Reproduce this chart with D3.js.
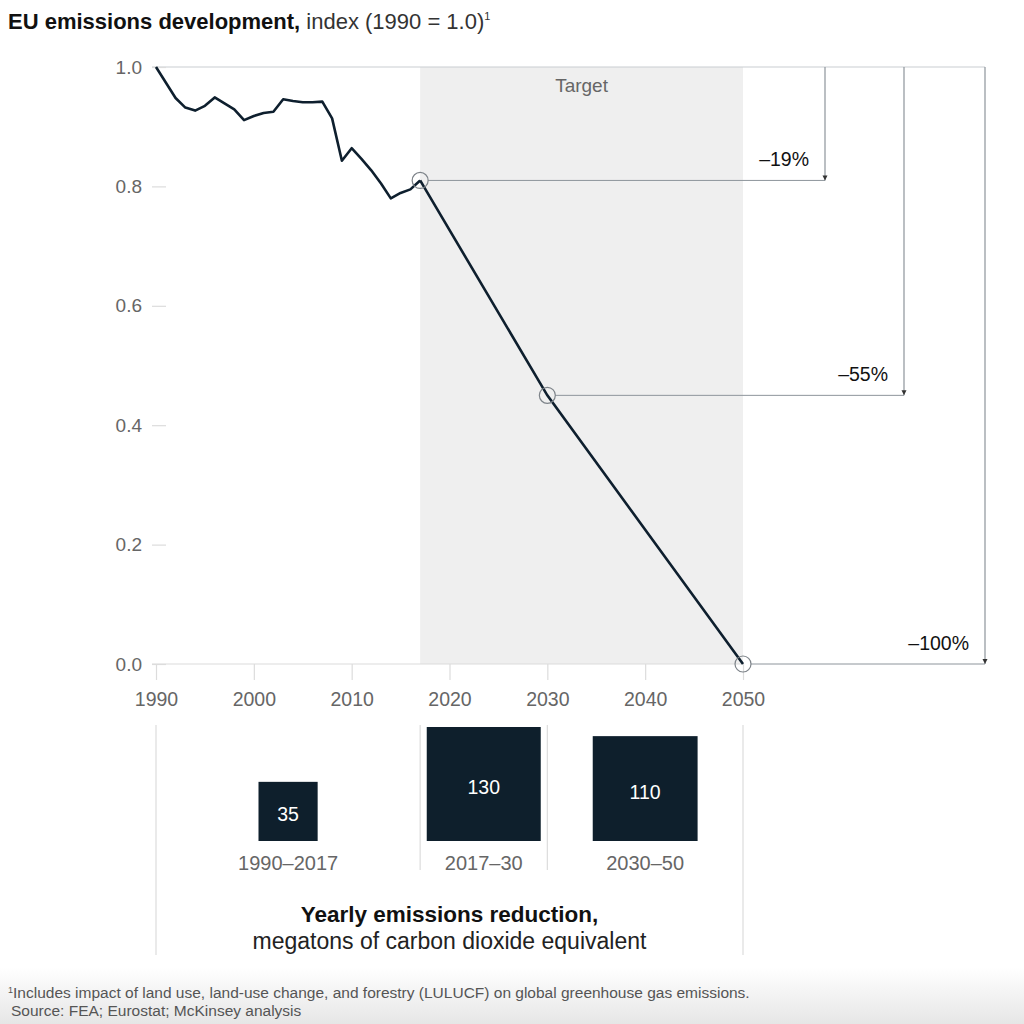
<!DOCTYPE html>
<html><head><meta charset="utf-8">
<script src="https://cdn.jsdelivr.net/npm/d3@7"></script>
<style>
html,body{margin:0;padding:0;background:#fff;}
svg{display:block;font-family:"Liberation Sans",Arial,sans-serif;}
</style></head>
<body><svg id="c" width="1024" height="1024"></svg>
<script>
// ---- data ----
const years = [1990,1991,1992,1993,1994,1995,1996,1997,1998,1999,2000,2001,2002,2003,2004,2005,2006,2007,2008,2009,2010,2011,2012,2013,2014,2015,2016,2017];
const emissions = [1.000,0.974,0.948,0.932,0.927,0.935,0.949,0.939,0.929,0.911,0.918,0.923,0.925,0.946,0.943,0.941,0.941,0.942,0.914,0.843,0.864,0.846,0.827,0.805,0.780,0.789,0.795,0.810];
const targetYears = [2017,2030,2050];
const targetValues = [0.81,0.45,0.0];
const targetLabels = ["–19%","–55%","–100%"];
const xTicks = [1990,2000,2010,2020,2030,2040,2050];
const yTicks = [0,0.2,0.4,0.6,0.8,1.0];
const periods = ["1990–2017","2017–30","2030–50"];
const periodStart = [1990,2017,2030];
const periodEnd = [2017,2030,2050];
const reductions = [35,130,110];

// ---- layout ----
const svg = d3.select("#c");
const x = d3.scaleLinear().domain([1990,2050]).range([156,743]);
const y = d3.scaleLinear().domain([0,1]).range([664,67]);
const side = d3.scaleSqrt().domain([0,130]).range([0,114]);
const arrowX = [825,904,985];
const dark = "#0e1f2e", grey = "#666", annot = "#8d949b", light = "#dcdcdc";
const FF = "Liberation Sans, Arial, sans-serif";

// footer gradient
const defs = svg.append("defs");
const g = defs.append("linearGradient").attr("id","fg").attr("x1",0).attr("x2",0).attr("y1",0).attr("y2",1);
g.append("stop").attr("offset","0%").attr("stop-color","#ffffff");
g.append("stop").attr("offset","100%").attr("stop-color","#e6e6e6");
svg.append("rect").attr("x",0).attr("y",968).attr("width",1024).attr("height",56).attr("fill","url(#fg)");

// title
const t = svg.append("text").attr("x",8).attr("y",29).attr("font-size",22).attr("fill","#111");
t.append("tspan").attr("font-weight","bold").text("EU emissions development,");
t.append("tspan").attr("fill","#333").text(" index (1990 = 1.0)");
t.append("tspan").attr("font-size",11).attr("dy",-9).attr("fill","#333").text("1");

// target shade
svg.append("rect").attr("x",x(2017)).attr("y",y(1)).attr("width",x(2050)-x(2017)).attr("height",y(0)-y(1)).attr("fill","#efefef");
svg.append("text").attr("x",(x(2017)+x(2050))/2).attr("y",92).attr("text-anchor","middle").attr("font-size",19).attr("fill",grey).text("Target");

// top gridline and baseline
svg.append("line").attr("x1",152).attr("x2",arrowX[2]).attr("y1",y(1)).attr("y2",y(1)).attr("stroke","#c9cdd1").attr("stroke-width",1.2);
svg.append("line").attr("x1",152).attr("x2",x(2050)).attr("y1",y(0)).attr("y2",y(0)).attr("stroke",light).attr("stroke-width",1.2);

// y axis
const ya = svg.append("g").attr("transform","translate(166,0)").call(d3.axisLeft(y).tickValues(yTicks).tickFormat(d3.format(".1f")).tickSize(14).tickPadding(10));
ya.select(".domain").remove();
ya.selectAll("line").attr("stroke",light).attr("stroke-width",1.2);
ya.selectAll("text").attr("font-size",19).attr("fill",grey).attr("font-family",FF);

// x axis
const xa = svg.append("g").attr("transform",`translate(0,${y(0)})`).call(d3.axisBottom(x).tickValues(xTicks).tickFormat(d3.format("d")).tickSize(16).tickPadding(12));
xa.select(".domain").remove();
xa.selectAll("line").attr("stroke",light).attr("stroke-width",1.2);
xa.selectAll("text").attr("font-size",19.5).attr("fill",grey).attr("font-family",FF);

// annotations
targetYears.forEach((yr,i)=>{
  const yy = y(targetValues[i]);
  svg.append("line").attr("x1",x(yr)+8).attr("x2",arrowX[i]).attr("y1",yy).attr("y2",yy).attr("stroke",annot).attr("stroke-width",1);
  svg.append("line").attr("x1",arrowX[i]).attr("x2",arrowX[i]).attr("y1",y(1)).attr("y2",yy).attr("stroke",annot).attr("stroke-width",1.2);
  svg.append("path").attr("d",`M${arrowX[i]-2.5},${yy-5}L${arrowX[i]+2.5},${yy-5}L${arrowX[i]},${yy}Z`).attr("fill","#333");
  svg.append("text").attr("x",arrowX[i]-16).attr("y",yy-14).attr("text-anchor","end").attr("font-size",19.5).attr("fill","#111").text(targetLabels[i]);
});

// line
const line = d3.line().x(d=>x(d[0])).y(d=>y(d[1]));
const hist = years.map((yr,i)=>[yr,emissions[i]]);
const proj = targetYears.map((yr,i)=>[yr,targetValues[i]]);
svg.append("path").attr("d",line(hist)).attr("fill","none").attr("stroke",dark).attr("stroke-width",2.6).attr("stroke-linejoin","round");
svg.append("path").attr("d",line(proj)).attr("fill","none").attr("stroke",dark).attr("stroke-width",2.6);
svg.selectAll("circle.t").data(proj).enter().append("circle").attr("class","t")
  .attr("cx",d=>x(d[0])).attr("cy",d=>y(d[1])).attr("r",8).attr("fill","none").attr("stroke","#7d8389").attr("stroke-width",1.2);

// bottom separators
[1990,2050].forEach(yr=>svg.append("line").attr("x1",x(yr)).attr("x2",x(yr)).attr("y1",725).attr("y2",955).attr("stroke",light).attr("stroke-width",1.2));
[2017,2030].forEach(yr=>svg.append("line").attr("x1",x(yr)).attr("x2",x(yr)).attr("y1",725).attr("y2",870).attr("stroke",light).attr("stroke-width",1.2));

// squares
const baseY = 841;
periods.forEach((p,i)=>{
  const cx = (x(periodStart[i])+x(periodEnd[i]))/2;
  const s = side(reductions[i]);
  svg.append("rect").attr("x",cx-s/2).attr("y",baseY-s).attr("width",s).attr("height",s).attr("fill","#0e1f2c");
  svg.append("text").attr("x",cx).attr("y",baseY-s/2+10).attr("text-anchor","middle").attr("font-size",19.5).attr("fill","#fff").text(reductions[i]);
  svg.append("text").attr("x",cx).attr("y",870).attr("text-anchor","middle").attr("font-size",20).attr("fill",grey).text(p);
});

// bottom title
const bc = (x(1990)+x(2050))/2;
svg.append("text").attr("x",bc).attr("y",922).attr("text-anchor","middle").attr("font-size",22.5).attr("font-weight","bold").attr("fill","#111").text("Yearly emissions reduction,");
svg.append("text").attr("x",bc).attr("y",949).attr("text-anchor","middle").attr("font-size",23).attr("fill","#222").text("megatons of carbon dioxide equivalent");

// footnote
const f = svg.append("text").attr("x",8).attr("y",998).attr("font-size",15.5).attr("fill","#555");
f.append("tspan").attr("font-size",9).attr("dy",-5).text("1");
f.append("tspan").attr("dy",5).text("Includes impact of land use, land-use change, and forestry (LULUCF) on global greenhouse gas emissions.");
svg.append("text").attr("x",11).attr("y",1016).attr("font-size",15.5).attr("fill","#555").text("Source: FEA; Eurostat; McKinsey analysis");
</script></body></html>
